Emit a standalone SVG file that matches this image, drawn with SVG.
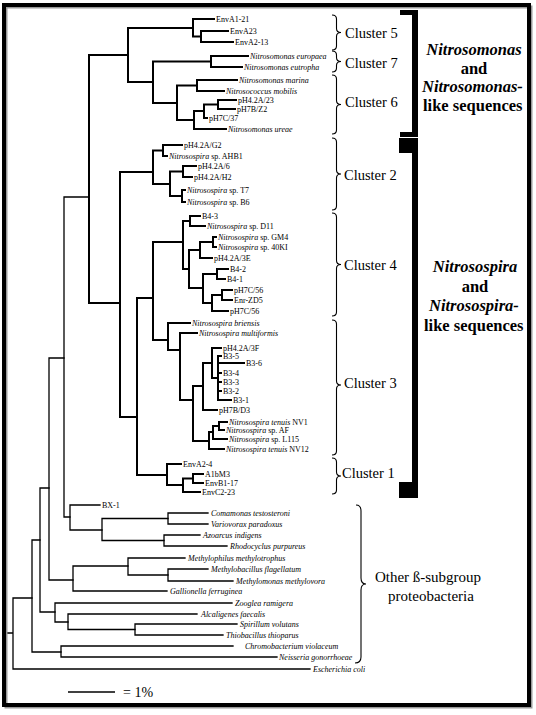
<svg xmlns="http://www.w3.org/2000/svg" width="536" height="715" viewBox="0 0 536 715">
<style>
.t{fill:none;stroke:#000;stroke-width:2;stroke-linecap:square}
.n{fill:none;stroke:#000;stroke-width:1.3;stroke-linecap:square}
.br{fill:none;stroke:#000;stroke-width:1.1}
text{font-family:"Liberation Serif","Times New Roman",serif;fill:#000}
.l{font-size:8px}
.i{font-style:italic}
.c{font-size:14.5px}
.g{font-size:16.5px;font-weight:bold}
.o{font-size:15px}
</style>
<rect x="0" y="0" width="536" height="715" fill="#fff"/>
<g id="connectors">
<path class="t" d="M201 31V42M201 31H228M201 42H233"/>
<path class="t" d="M193 19V36.5M193 19H214M193 36.5H201"/>
<path class="t" d="M211 56V67M211 56H248M211 67H242"/>
<path class="t" d="M218 100V109M218 100H236M218 109H235"/>
<path class="t" d="M204 104.5V118M204 104.5H218M204 118H207"/>
<path class="t" d="M194 111V129M194 111H204M194 129H226"/>
<path class="t" d="M197 80V91M197 80H237M197 91H224"/>
<path class="t" d="M177 85.5V120M177 85.5H197M177 120H194"/>
<path class="t" d="M153 61.5V103M153 61.5H211M153 103H177"/>
<path class="t" d="M128 28V82M128 28H193M128 82H153"/>
<path class="t" d="M163 145V156M163 145H182M163 156H167"/>
<path class="t" d="M183 166V177M183 166H196M183 177H192"/>
<path class="t" d="M182 190V202M182 190H185M182 202H185"/>
<path class="t" d="M170 171.5V196M170 171.5H183M170 196H182"/>
<path class="t" d="M153 150.5V184M153 150.5H163M153 184H170"/>
<path class="t" d="M190 216V226M190 216H200M190 226H205"/>
<path class="t" d="M213 237V247M213 237H216M213 247H216"/>
<path class="t" d="M200 242V258M200 242H213M200 258H212"/>
<path class="t" d="M217 269V279M217 269H228M217 279H225"/>
<path class="t" d="M222 290V300M222 290H232M222 300H232"/>
<path class="t" d="M212 295V311M212 295H222M212 311H228"/>
<path class="t" d="M203 274V303M203 274H217M203 303H212"/>
<path class="t" d="M189 250V288M189 250H200M189 288H203"/>
<path class="t" d="M183 221V269M183 221H190M183 269H189"/>
<path class="t" d="M218 356V400M218 356H221M218 363H244M218 373H221M218 382H221M218 391H221M218 400H231"/>
<path class="t" d="M212 348V378M212 348H221M212 378H218"/>
<path class="t" d="M203 363V410M203 363H212M203 410H217"/>
<path class="t" d="M219 422V430M219 422H227M219 430H224"/>
<path class="t" d="M213 426V439M213 426H219M213 439H227"/>
<path class="t" d="M209 432V449M209 432H213M209 449H224"/>
<path class="t" d="M193 386V441M193 386H203M193 441H209"/>
<path class="t" d="M180 333V400M180 333H197M180 400H193"/>
<path class="t" d="M168 323V350M168 323H190M168 350H180"/>
<path class="t" d="M153 242V340M153 242H183M153 340H168"/>
<path class="t" d="M193 474V483M193 474H203M193 483H203"/>
<path class="t" d="M183 478.5V492M183 478.5H193M183 492H200"/>
<path class="t" d="M167 464V485M167 464H181M167 485H183"/>
<path class="t" d="M137 298V475M137 298H153M137 475H167"/>
<path class="t" d="M120 172V417M120 172H153M120 417H137"/>
<path class="t" d="M89 55V303M89 55H128M89 303H120"/>
<path class="n" d="M64 197V517M64 197H89M64 517H70"/>
<path class="n" d="M70 505V530M70 505H100M70 530H102"/>
<path class="n" d="M102 518.5V540.5M102 518.5H168M102 540.5H164"/>
<path class="n" d="M168 513V524M168 513H208M168 524H208"/>
<path class="n" d="M164 535V546M164 535H200M164 546H227"/>
<path class="n" d="M49 358V580M49 358H64M49 580H73"/>
<path class="n" d="M73 566V591M73 566H128M73 591H167"/>
<path class="n" d="M128 558V575M128 558H185M128 575H168"/>
<path class="n" d="M168 569V581M168 569H208M168 581H233"/>
<path class="n" d="M40 488V612M40 488H49M40 612H55"/>
<path class="n" d="M55 603V622M55 603H232M55 622H68"/>
<path class="n" d="M68 614V629.5M68 614H197M68 629.5H135"/>
<path class="n" d="M135 624V635M135 624H237M135 635H223"/>
<path class="n" d="M32 540V652M32 540H40M32 652H61"/>
<path class="n" d="M61 646V657M61 646H233M61 657H277"/>
<path class="n" d="M13 598V669M13 598H32M13 669H310M5 633H13"/>
</g>
<g id="leaves" class="l">
<g id="EnvA1-21"><text x="216" y="22">EnvA1-21</text></g>
<g id="EnvA23"><text x="230" y="34">EnvA23</text></g>
<g id="EnvA2-13"><text x="235" y="45">EnvA2-13</text></g>
<g id="N-europaea"><text x="250" y="59" class="i">Nitrosomonas europaea</text></g>
<g id="N-eutropha"><text x="244" y="70" class="i">Nitrosomonas eutropha</text></g>
<g id="N-marina"><text x="239" y="83" class="i">Nitrosomonas marina</text></g>
<g id="N-mobilis"><text x="226" y="94" class="i">Nitrosococcus mobilis</text></g>
<g id="pH4.2A-23"><text x="238" y="103">pH4.2A/23</text></g>
<g id="pH7B-Z2"><text x="237" y="112">pH7B/Z2</text></g>
<g id="pH7C-37"><text x="209" y="121">pH7C/37</text></g>
<g id="N-ureae"><text x="228" y="132" class="i">Nitrosomonas ureae</text></g>
<g id="pH4.2A-G2"><text x="184" y="148">pH4.2A/G2</text></g>
<g id="AHB1"><text x="169" y="159"><tspan class="i">Nitrosospira</tspan> sp. AHB1</text></g>
<g id="pH4.2A-6"><text x="198" y="169">pH4.2A/6</text></g>
<g id="pH4.2A-H2"><text x="194" y="180">pH4.2A/H2</text></g>
<g id="T7"><text x="187" y="193"><tspan class="i">Nitrosospira</tspan> sp. T7</text></g>
<g id="B6"><text x="187" y="205"><tspan class="i">Nitrosospira</tspan> sp. B6</text></g>
<g id="B4-3"><text x="202" y="219">B4-3</text></g>
<g id="D11"><text x="207" y="229"><tspan class="i">Nitrosospira</tspan> sp. D11</text></g>
<g id="GM4"><text x="218" y="240"><tspan class="i">Nitrosospira</tspan> sp. GM4</text></g>
<g id="40KI"><text x="218" y="250"><tspan class="i">Nitrosospira</tspan> sp. 40KI</text></g>
<g id="pH4.2A-3E"><text x="214" y="261">pH4.2A/3E</text></g>
<g id="B4-2"><text x="230" y="272">B4-2</text></g>
<g id="B4-1"><text x="227" y="282">B4-1</text></g>
<g id="pH7C-56a"><text x="234" y="293">pH7C/56</text></g>
<g id="Enr-ZD5"><text x="234" y="303">Enr-ZD5</text></g>
<g id="pH7C-56b"><text x="230" y="314">pH7C/56</text></g>
<g id="N-briensis"><text x="192" y="326" class="i">Nitrosospira briensis</text></g>
<g id="N-multiformis"><text x="199" y="336" class="i">Nitrosospira multiformis</text></g>
<g id="pH4.2A-3F"><text x="223" y="351">pH4.2A/3F</text></g>
<g id="B3-5"><text x="223" y="359">B3-5</text></g>
<g id="B3-6"><text x="246" y="366">B3-6</text></g>
<g id="B3-4"><text x="223" y="376">B3-4</text></g>
<g id="B3-3"><text x="223" y="385">B3-3</text></g>
<g id="B3-2"><text x="223" y="394">B3-2</text></g>
<g id="B3-1"><text x="233" y="403">B3-1</text></g>
<g id="pH7B-D3"><text x="219" y="413">pH7B/D3</text></g>
<g id="NV1"><text x="229" y="425"><tspan class="i">Nitrosospira tenuis</tspan> NV1</text></g>
<g id="AF"><text x="226" y="433"><tspan class="i">Nitrosospira</tspan> sp. AF</text></g>
<g id="L115"><text x="229" y="442"><tspan class="i">Nitrosospira</tspan> sp. L115</text></g>
<g id="NV12"><text x="226" y="452"><tspan class="i">Nitrosospira tenuis</tspan> NV12</text></g>
<g id="EnvA2-4"><text x="183" y="467">EnvA2-4</text></g>
<g id="A1bM3"><text x="205" y="477">A1bM3</text></g>
<g id="EnvB1-17"><text x="205" y="486">EnvB1-17</text></g>
<g id="EnvC2-23"><text x="202" y="495">EnvC2-23</text></g>
<g id="BX-1"><text x="102" y="508">BX-1</text></g>
<g id="Comamonas"><text x="211" y="516" class="i">Comamonas testosteroni</text></g>
<g id="Variovorax"><text x="211" y="527" class="i">Variovorax paradoxus</text></g>
<g id="Azoarcus"><text x="203" y="538" class="i">Azoarcus indigens</text></g>
<g id="Rhodocyclus"><text x="230" y="549" class="i">Rhodocyclus purpureus</text></g>
<g id="Methylophilus"><text x="188" y="561" class="i">Methylophilus methylotrophus</text></g>
<g id="Methylobacillus"><text x="211" y="572" class="i">Methylobacillus flagellatum</text></g>
<g id="Methylomonas"><text x="236" y="584" class="i">Methylomonas methylovora</text></g>
<g id="Gallionella"><text x="170" y="594" class="i">Gallionella ferruginea</text></g>
<g id="Zooglea"><text x="235" y="606" class="i">Zooglea ramigera</text></g>
<g id="Alcaligenes"><text x="201" y="617" class="i">Alcaligenes faecalis</text></g>
<g id="Spirillum"><text x="240" y="627" class="i">Spirillum volutans</text></g>
<g id="Thiobacillus"><text x="226" y="638" class="i">Thiobacillus thioparus</text></g>
<g id="Chromobacterium"><text x="245" y="649" class="i">Chromobacterium violaceum</text></g>
<g id="Neisseria"><text x="279" y="660" class="i">Neisseria gonorrhoeae</text></g>
<g id="Ecoli"><text x="313" y="672" class="i">Escherichia coli</text></g>
</g>
<g id="clusters">
<path class="br" d="M332 15Q336.5 15 336.5 19V28.5Q336.5 32.5 341 32.5Q336.5 32.5 336.5 36.5V46Q336.5 50 332 50"/>
<path class="br" d="M332 51Q336.5 51 336.5 55V57.5Q336.5 61.5 341 61.5Q336.5 61.5 336.5 65.5V68Q336.5 72 332 72"/>
<path class="br" d="M332 75Q336.5 75 336.5 79V100.5Q336.5 104.5 341 104.5Q336.5 104.5 336.5 108.5V130Q336.5 134 332 134"/>
<path class="br" d="M332 138Q336.5 138 336.5 142V170Q336.5 174 341 174Q336.5 174 336.5 178V206Q336.5 210 332 210"/>
<path class="br" d="M332 213Q336.5 213 336.5 217V260.5Q336.5 264.5 341 264.5Q336.5 264.5 336.5 268.5V312Q336.5 316 332 316"/>
<path class="br" d="M332 320Q336.5 320 336.5 324V381Q336.5 385 341 385Q336.5 385 336.5 389V451Q336.5 455 332 455"/>
<path class="br" d="M332 458Q336.5 458 336.5 462V472Q336.5 476 341 476Q336.5 476 336.5 480V490Q336.5 494 332 494"/>
<g id="cluster5"><text class="c" x="345" y="38">Cluster 5</text></g>
<g id="cluster7"><text class="c" x="345" y="68">Cluster 7</text></g>
<g id="cluster6"><text class="c" x="345" y="107">Cluster 6</text></g>
<g id="cluster2"><text class="c" x="344" y="180">Cluster 2</text></g>
<g id="cluster4"><text class="c" x="344" y="270">Cluster 4</text></g>
<g id="cluster3"><text class="c" x="344" y="388">Cluster 3</text></g>
<g id="cluster1"><text class="c" x="342" y="478">Cluster 1</text></g>
</g>
<g id="other">
<path class="br" d="M356 505Q361 505 361 511V578Q361 584 366 584Q361 584 361 590V657Q361 663 355 663"/>
<text class="o" x="428" y="582" text-anchor="middle">Other ß-subgroup</text>
<text class="o" x="431" y="601" text-anchor="middle">proteobacteria</text>
</g>
<g id="nitrosomonas-group">
<path d="M400 10H418V137H400V132H412V15H400Z" fill="#000"/>
<text class="g" x="474" y="55" text-anchor="middle" font-style="italic">Nitrosomonas</text>
<text class="g" x="474" y="73.5" text-anchor="middle">and</text>
<text class="g" x="422" y="92" font-style="italic">Nitrosomonas-</text>
<text class="g" x="423" y="110.5">like sequences</text>
</g>
<g id="nitrosospira-group">
<path d="M399 138H418V498H399V482H412V153H399Z" fill="#000"/>
<text class="g" x="475" y="272" text-anchor="middle" font-style="italic">Nitrosospira</text>
<text class="g" x="475" y="291.5" text-anchor="middle">and</text>
<text class="g" x="429" y="311" font-style="italic">Nitrosospira-</text>
<text class="g" x="424" y="330.5">like sequences</text>
</g>
<g id="scale">
<path d="M68 692H115" stroke="#000" stroke-width="1.5"/>
<text x="123" y="697" font-size="14">= 1%</text>
</g>
<rect x="6" y="7" width="525" height="700" fill="none" stroke="#999" stroke-width="3"/>
<rect x="4" y="5" width="525" height="700" fill="none" stroke="#000" stroke-width="4"/>
</svg>
